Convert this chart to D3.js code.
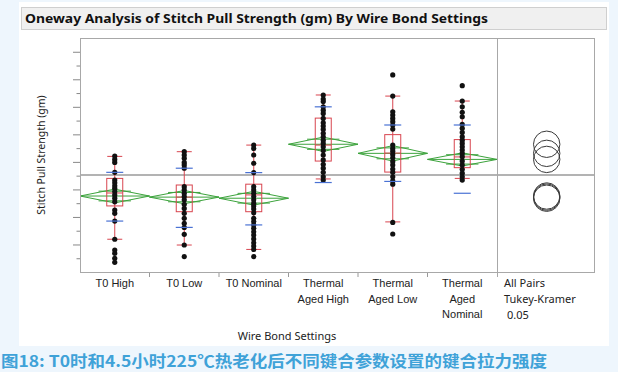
<!DOCTYPE html>
<html>
<head>
<meta charset="utf-8">
<title>Oneway Analysis</title>
<script src="https://cdn.jsdelivr.net/npm/d3@7"></script>
<style>
  html, body { margin: 0; padding: 0; background: #eef6fd; }
  svg { display: block; font-family: "Noto Sans", "Open Sans", sans-serif; }
</style>
</head>
<body>
<script>
// groups and their axis labels
const groups = ["T0 High", "T0 Low", "T0 Nominal", "Thermal Aged High", "Thermal Aged Low", "Thermal Aged Nominal"];
const groupLabels = [["T0 High"], ["T0 Low"], ["T0 Nominal"], ["Thermal", "Aged High"], ["Thermal", "Aged Low"], ["Thermal", "Aged", "Nominal"]];

// individual pull strengths (gm)
const ptsT0High = [6.21, 6.09, 5.98, 5.62, 5.34, 5.24, 5.13, 5.04, 4.92, 4.80, 4.68, 4.55, 4.25, 4.13, 3.85, 3.19, 2.80, 2.68, 2.50, 2.35];
const ptsT0Low = [6.37, 6.25, 6.13, 5.98, 5.89, 5.77, 5.10, 4.98, 4.86, 4.74, 4.62, 4.46, 4.31, 4.13, 3.95, 3.77, 3.62, 3.37, 2.98, 2.56];
const ptsT0Nom = [6.61, 6.49, 6.25, 5.95, 5.61, 5.10, 4.98, 4.86, 4.74, 4.62, 4.50, 4.40, 4.29, 4.15, 3.95, 3.83, 3.71, 3.59, 3.46, 3.34, 3.20, 3.06, 2.94, 2.82, 2.56];
const ptsTAHigh = [8.43, 8.28, 8.19, 8.00, 7.88, 7.76, 7.58, 7.42, 7.30, 7.18, 7.04, 6.91, 6.79, 6.67, 6.55, 6.41, 6.25, 6.07, 5.91, 5.77, 5.62, 5.46, 5.34];
const ptsTALow = [9.16, 8.39, 7.82, 7.70, 7.58, 7.46, 7.34, 7.19, 6.61, 6.49, 6.39, 6.27, 6.15, 6.01, 5.89, 5.74, 5.62, 5.46, 5.31, 5.19, 3.80, 3.38];
const ptsTANom = [8.77, 8.21, 8.00, 7.80, 7.64, 7.36, 7.22, 7.07, 6.91, 6.79, 6.67, 6.55, 6.43, 6.31, 6.19, 6.03, 5.89, 5.73, 5.59, 5.46, 5.34];
const points = [ptsT0High, ptsT0Low, ptsT0Nom, ptsTAHigh, ptsTALow, ptsTANom];

// box plot stats
const whiskerLo = [3.19, 2.98, 2.82, 5.38, 3.82, 5.40];
const q1 = [4.40, 4.19, 4.19, 6.03, 5.63, 5.79];
const median = [4.87, 4.72, 4.80, 6.61, 6.32, 6.18];
const q3 = [5.40, 5.16, 5.19, 7.59, 6.99, 6.81];
const whiskerHi = [6.20, 6.37, 6.61, 8.43, 8.39, 8.21];

// means, std dev bars, 95% CI half width
const means = [4.76, 4.72, 4.68, 6.64, 6.31, 6.09];
const sdLo = [3.85, 3.62, 3.71, 5.25, 5.29, 4.86];
const sdHi = [5.62, 5.77, 5.61, 8.00, 7.34, 7.34];
const ciHalf = [0.25, 0.24, 0.25, 0.26, 0.28, 0.24];

const grandMean = 5.52;
const circleRadius = 0.48; // Tukey-Kramer comparison circle radius (gm)
const compLabel = ["All Pairs", "Tukey-Kramer", "0.05"];

const W = 618, H = 372;
const pLeft = 80, pRight = 594, pSplit = 497, pTop = 38, pBottom = 272;

const svg = d3.select("body").append("svg")
    .attr("width", W)
    .attr("height", H);

// white report panel + title bar
svg.append("rect").attr("x", 19).attr("y", 2).attr("width", 590).attr("height", 344).attr("fill", "#fff");
svg.append("rect").attr("x", 21.5).attr("y", 7.5).attr("width", 585).attr("height", 22)
    .attr("fill", "#f0f0f0").attr("stroke", "#cfcfcf");
svg.append("text")
    .attr("x", 25).attr("y", 23)
    .attr("font-size", 13).attr("font-weight", "bold").attr("fill", "#111")
    .attr("textLength", 463).attr("lengthAdjust", "spacingAndGlyphs")
    .text("Oneway Analysis of Stitch Pull Strength (gm) By Wire Bond Settings");

const x = d3.scaleBand().domain(groups).range([pLeft, pSplit]).padding(0);
const y = d3.scaleLinear().domain([2, 10.5]).range([pBottom, pTop]);
const cx = g => x(g) + x.bandwidth() / 2;

// y axis: ticks only, no labels
const yTicks = d3.range(2.5, 10.01, 0.5);
const yAxis = svg.append("g")
    .attr("transform", `translate(${pLeft},0)`)
    .call(d3.axisLeft(y).tickValues(yTicks).tickFormat("").tickSizeOuter(0));
yAxis.select(".domain").remove();
yAxis.selectAll(".tick line")
    .attr("stroke", "#888")
    .attr("x2", d => Number.isInteger(d) ? -7 : -3.5);

// x axis: labels under groups, ticks at group boundaries
const xAxis = svg.append("g")
    .attr("transform", `translate(0,${pBottom})`)
    .call(d3.axisBottom(x).tickSize(0).tickFormat(""));
xAxis.select(".domain").remove();
xAxis.selectAll(".tick").each(function (d, i) {
    const t = d3.select(this).append("text")
        .attr("fill", "#222").attr("font-size", 11).attr("text-anchor", "middle");
    groupLabels[i].forEach((line, j) => {
        t.append("tspan").attr("x", 0).attr("y", 15 + j * 15.5).text(line);
    });
});
svg.append("g").selectAll("line")
    .data(groups.slice(1))
    .join("line")
    .attr("x1", d => x(d)).attr("x2", d => x(d))
    .attr("y1", pBottom).attr("y2", pBottom + 5)
    .attr("stroke", "#999");

// comparison label
svg.append("text")
    .attr("font-size", 11).attr("fill", "#222")
    .selectAll("tspan")
    .data(compLabel)
    .join("tspan")
    .attr("x", (d, i) => i === 2 ? 507 : 504)
    .attr("y", (d, i) => 287 + i * 16)
    .text(d => d);

svg.append("text")
    .attr("x", 287).attr("y", 340)
    .attr("text-anchor", "middle").attr("font-size", 11).attr("fill", "#222")
    .text("Wire Bond Settings");

svg.append("text")
    .attr("transform", `translate(45,${(pTop + pBottom) / 2}) rotate(-90)`)
    .attr("text-anchor", "middle").attr("font-size", 10.5).attr("fill", "#222")
    .text("Stitch Pull Strength (gm)");

const plot = svg.append("g");

// grand mean line
plot.append("line")
    .attr("x1", pLeft).attr("x2", pRight)
    .attr("y1", y(grandMean)).attr("y2", y(grandMean))
    .attr("stroke", "#9a9a9a").attr("stroke-width", 1.5);

// means diamonds
const green = "#3ca33c";
groups.forEach((g, i) => {
    const x0 = x(g), x1 = x(g) + x.bandwidth(), xm = cx(g);
    const m = means[i], h = ciHalf[i];
    const dg = plot.append("g").attr("fill", "none").attr("stroke", green).attr("stroke-width", 1);
    dg.append("path")
        .attr("d", d3.line()([[x0, y(m)], [xm, y(m + h)], [x1, y(m)], [xm, y(m - h)], [x0, y(m)]]));
    dg.append("line").attr("x1", x0).attr("x2", x1).attr("y1", y(m)).attr("y2", y(m));
    // overlap marks
    const k = Math.SQRT1_2;
    const half = (1 - k) * x.bandwidth() / 2 + 6;
    [m + h * k, m - h * k].forEach(v => {
        dg.append("line")
            .attr("x1", xm - half).attr("x2", xm + half)
            .attr("y1", y(v)).attr("y2", y(v));
    });
});

// box plots
const red = "#d8454f";
const blue = "#4a72d4";
groups.forEach((g, i) => {
    const xm = cx(g);
    const bg = plot.append("g").attr("stroke", red).attr("fill", "none").attr("stroke-width", 1);
    bg.append("line").attr("x1", xm).attr("x2", xm).attr("y1", y(whiskerLo[i])).attr("y2", y(whiskerHi[i]));
    [whiskerLo[i], whiskerHi[i]].forEach(v => {
        bg.append("line").attr("x1", xm - 7.5).attr("x2", xm + 7.5).attr("y1", y(v)).attr("y2", y(v));
    });
    bg.append("rect")
        .attr("x", xm - 8).attr("width", 16)
        .attr("y", y(q3[i])).attr("height", y(q1[i]) - y(q3[i]));
    bg.append("line").attr("x1", xm - 8).attr("x2", xm + 8).attr("y1", y(median[i])).attr("y2", y(median[i]));

    // dots
    plot.append("g").selectAll("circle")
        .data(points[i])
        .join("circle")
        .attr("cx", xm).attr("cy", d => y(d)).attr("r", 2.6)
        .attr("fill", "#111");

    // std dev bars
    [sdLo[i], sdHi[i]].forEach(v => {
        plot.append("line")
            .attr("x1", xm - 8.5).attr("x2", xm + 8.5).attr("y1", y(v)).attr("y2", y(v))
            .attr("stroke", blue).attr("stroke-width", 1.2);
    });
});

// comparison circles
const rPx = y(0) - y(circleRadius);
const circX = 546.7;
plot.append("g").selectAll("circle")
    .data(means)
    .join("circle")
    .attr("cx", circX).attr("cy", d => y(d)).attr("r", rPx)
    .attr("fill", "none").attr("stroke", "#3a3a3a").attr("stroke-width", 1);

// frame
const frame = svg.append("g").attr("stroke", "#a8a8a8").attr("fill", "none");
frame.append("rect").attr("x", pLeft + 0.5).attr("y", pTop + 0.5).attr("width", pRight - pLeft).attr("height", pBottom - pTop);
frame.append("line").attr("x1", pSplit + 0.5).attr("x2", pSplit + 0.5).attr("y1", pTop).attr("y2", pBottom + 5);

// caption
svg.append("text")
    .attr("x", 1).attr("y", 367)
    .attr("font-family", "'Noto Sans CJK SC', sans-serif")
    .attr("font-size", 15.5).attr("font-weight", "bold").attr("fill", "#3fa2d8")
    .attr("textLength", 546).attr("lengthAdjust", "spacingAndGlyphs")
    .text("图18: T0时和4.5小时225℃热老化后不同键合参数设置的键合拉力强度");
</script>
</body>
</html>
